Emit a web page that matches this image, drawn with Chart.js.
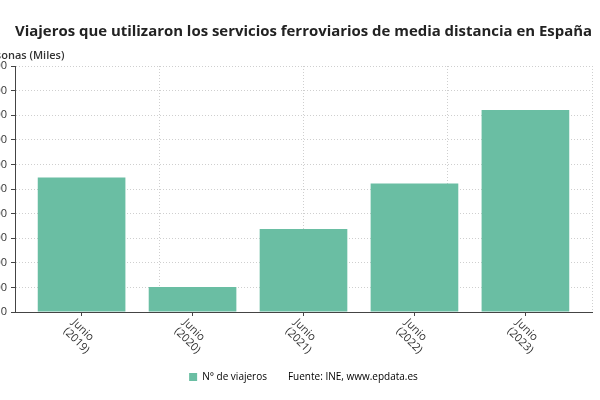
<!DOCTYPE html>
<html>
<head>
<meta charset="utf-8">
<script src="https://cdn.jsdelivr.net/npm/chart.js@4.4.0/dist/chart.umd.min.js"></script>
<style>
  html, body { margin: 0; padding: 0; background: #fff; }
  #chart-box { position: relative; width: 600px; height: 400px; }
</style>
</head>
<body>
<div id="chart-box"><canvas id="viajeros-chart"></canvas></div>
<script>
  'use strict';

  // datos (miles de personas)
  var categorias = ['Junio (2019)', 'Junio (2020)', 'Junio (2021)', 'Junio (2022)', 'Junio (2023)'];
  var viajeros = [2735, 510, 1685, 2610, 4105];
  var ticksY = [0, 500, 1000, 1500, 2000, 2500, 3000, 3500, 4000, 4500, 5000];
  var titulo = 'Viajeros que utilizaron los servicios ferroviarios de media distancia en España';
  var unidad = 'Personas (Miles)';
  var serie = 'N° de viajeros';
  var fuente = 'Fuente: INE, www.epdata.es';

  var verde = '#6abea3';
  var oscuro = '#444';

  function miles(v) {
    return String(v).replace(/\B(?=(\d{3})+(?!\d))/g, '.');
  }

  // etiquetas inclinadas del eje x y texto de unidades
  var etiquetasX = {
    id: 'etiquetasX',
    afterDraw: function (chart) {
      var c = chart.ctx;
      var sx = chart.scales.x;
      c.save();
      c.fillStyle = '#333';
      c.font = "11px 'Open Sans'";
      c.textAlign = 'left';
      c.textBaseline = 'top';
      categorias.forEach(function (cat, i) {
        var px = sx.getPixelForValue(i);
        var lineas = cat.split(' ');
        c.save();
        c.translate(px - 4, sx.top + 5);
        c.rotate(Math.PI / 4);
        lineas.forEach(function (l, k) {
          c.fillText(l, 0, k * 12);
        });
        c.restore();
      });
      c.textBaseline = 'middle';
      c.font = "600 11px 'Open Sans'";
      c.fillText(unidad, chart.chartArea.left - 37, chart.chartArea.top - 10);
      c.restore();
    }
  };

  var ctx = document.getElementById('viajeros-chart').getContext('2d');
  Chart.defaults.font.family = "'Open Sans', sans-serif";
  Chart.defaults.color = '#333';

  window.viajerosChart = new Chart(ctx, {
    type: 'bar',
    data: {
      datasets: [{
        label: serie,
        data: categorias.map(function (c, i) { return { x: i, y: viajeros[i] }; }),
        backgroundColor: verde,
        borderWidth: 0,
        categoryPercentage: 1,
        barPercentage: 0.79
      }]
    },
    options: {
      responsive: true,
      maintainAspectRatio: false,
      animation: false,
      layout: { padding: { left: 0, right: 8, top: 0, bottom: 8 } },
      plugins: {
        title: {
          display: true,
          fullSize: false,
          text: titulo,
          color: '#222',
          font: { size: 15, weight: 'bold' },
          padding: { top: 23, bottom: 25 }
        },
        legend: {
          position: 'bottom',
          fullSize: false,
          labels: {
            boxWidth: 8,
            boxHeight: 8,
            padding: 8,
            font: { size: 10 },
            generateLabels: function () {
              return [
                { text: serie, fillStyle: verde, strokeStyle: verde, lineWidth: 0, datasetIndex: 0 },
                { text: fuente, fillStyle: 'rgba(0,0,0,0)', strokeStyle: 'rgba(0,0,0,0)', lineWidth: 0 }
              ];
            }
          }
        },
        tooltip: { enabled: false }
      },
      scales: {
        x: {
          type: 'linear',
          offset: false,
          min: -0.6,
          max: 4.6,
          afterBuildTicks: function (scale) {
            scale.ticks = categorias.map(function (c, i) { return { value: i }; });
          },
          afterFit: function (scale) { scale.height = 52; },
          ticks: { display: false },
          grid: { offset: false, drawOnChartArea: false, drawTicks: true, tickLength: 4, tickColor: oscuro },
          border: { color: oscuro }
        },
        x2: {
          type: 'linear',
          position: 'top',
          offset: false,
          min: 0,
          max: 4,
          afterFit: function (scale) { scale.height = 0; },
          ticks: { display: false, stepSize: 1 },
          grid: { offset: false, color: '#cfcfcf', drawTicks: false },
          border: { display: false, dash: [1, 2] }
        },
        y: {
          min: ticksY[0],
          max: ticksY[ticksY.length - 1],
          afterBuildTicks: function (scale) {
            scale.ticks = ticksY.map(function (v) { return { value: v }; });
          },
          afterFit: function (scale) { scale.width = 15; },
          ticks: { padding: 4, font: { size: 11 }, color: '#333', callback: function (v) { return miles(v); } },
          grid: { color: '#cfcfcf', tickColor: oscuro, tickLength: 4, tickBorderDash: [] },
          border: { color: oscuro, dash: [1, 2] }
        }
      }
    },
    plugins: [etiquetasX]
  });
</script>
</body>
</html>
